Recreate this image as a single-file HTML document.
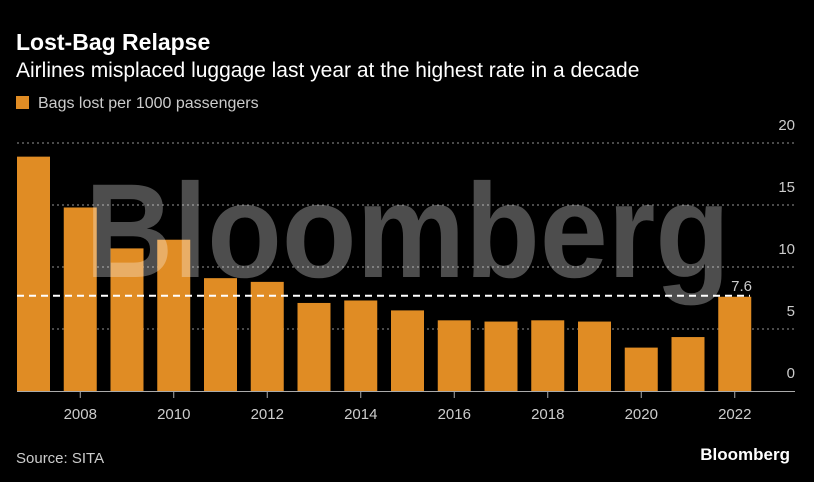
<!DOCTYPE html>
<html><head><meta charset="utf-8"><style>
body{margin:0;background:#000;width:814px;height:482px;overflow:hidden;font-family:"Liberation Sans",sans-serif;color:#fff}
</style></head><body>
<svg width="814" height="482" style="position:absolute;left:0;top:0">
<text x="16" y="50" font-size="23" font-weight="bold" fill="#fff">Lost-Bag Relapse</text>
<text x="16" y="77" font-size="21" fill="#fff">Airlines misplaced luggage last year at the highest rate in a decade</text>
<rect x="16" y="96" width="13" height="13" fill="#e08c24"/>
<text x="38" y="108" font-size="16" fill="#ccc">Bags lost per 1000 passengers</text>
<g id="grid"></g>
<g id="bars"></g>
<text x="85" y="277" font-size="134" font-weight="bold" fill="rgba(255,255,255,0.3)" textLength="645" lengthAdjust="spacingAndGlyphs">Bloomberg</text>
<g id="ann"></g>
<g id="xaxis"></g>
<text x="16" y="463" font-size="15" fill="#ccc">Source: SITA</text>
<text x="790" y="460" font-size="17" font-weight="bold" fill="#fff" text-anchor="end">Bloomberg</text>
</svg>
<script>
const years=[2007,2008,2009,2010,2011,2012,2013,2014,2015,2016,2017,2018,2019,2020,2021,2022];
const values=[18.9,14.8,11.5,12.2,9.1,8.8,7.1,7.3,6.5,5.7,5.6,5.7,5.6,3.5,4.35,7.6];
const yTicks=[0,5,10,15,20];
const xTickYears=[2008,2010,2012,2014,2016,2018,2020,2022];
const refValue=7.6;
const NS="http://www.w3.org/2000/svg";
const y=v=>391-v*12.4;
const x=yr=>17+(yr-2007)*46.75;
const bw=33;
function mk(t,a,p){const e=document.createElementNS(NS,t);for(const k in a)e.setAttribute(k,a[k]);document.getElementById(p).appendChild(e);return e;}
yTicks.forEach(t=>{
  if(t>0){const l=mk('line',{x1:17,x2:795,y1:y(t),y2:y(t),stroke:'#777','stroke-dasharray':'2,3','stroke-width':1.2},'grid');
  
  }
  const tx=mk('text',{x:795,y:y(t)-13,'font-size':15,fill:'#ccc','text-anchor':'end'},'grid');
  tx.textContent=t;
  
  
});
years.forEach((yr,i)=>{
  const r=mk('rect',{x:x(yr),y:y(values[i]),width:bw,height:391-y(values[i]),fill:'#e08c24'},'bars');
  
  
});
const bl=mk('line',{x1:17,x2:795,y1:391.5,y2:391.5,stroke:'#aaa','stroke-width':1},'xaxis');


xTickYears.forEach(yr=>{
  const cx=x(yr)+bw/2;
  const tk=mk('line',{x1:cx,x2:cx,y1:392,y2:398,stroke:'#aaa'},'xaxis');
  
  
  const t=mk('text',{x:cx,y:419,'font-size':15,fill:'#ccc','text-anchor':'middle'},'xaxis');
  t.textContent=yr;
  
  
});
const rl=mk('line',{x1:17,x2:750,y1:y(refValue)-1,y2:y(refValue)-1,stroke:'#fff','stroke-dasharray':'7,5','stroke-width':2},'ann');


const rt=mk('text',{x:752,y:y(refValue)-6,'font-size':15,fill:'#ccc','text-anchor':'end'},'ann');
rt.textContent=refValue;


</script>
</body></html>
